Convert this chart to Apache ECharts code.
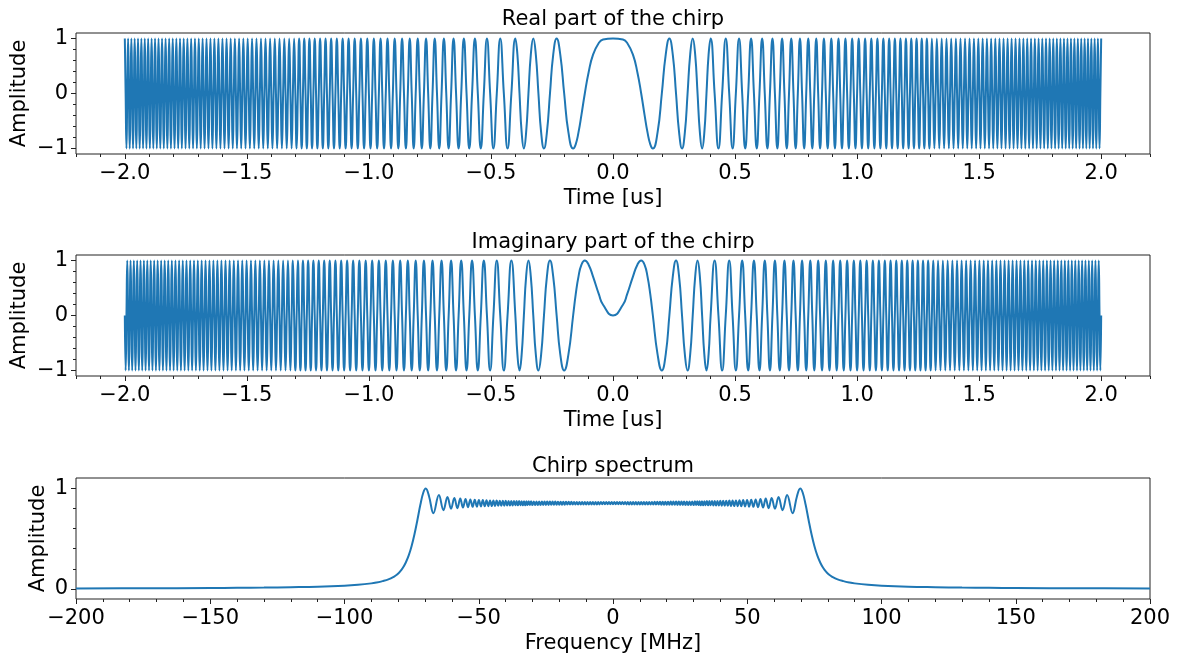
<!DOCTYPE html>
<html>
<head>
<meta charset="utf-8">
<script src="https://cdn.jsdelivr.net/npm/echarts@6/dist/echarts.min.js"></script>
<style>
html,body{margin:0;padding:0;background:#ffffff;}
#chart{width:1186px;height:658px;}
</style>
</head>
<body>
<div id="chart"></div>
<script>
// ---------------- DATA ----------------
// Chirp: sample times (us, t >= 0) at the turning points / zero crossings seen in the plot.
// The curves are symmetric in time, so the negative half is mirrored from these.
const chirpTimePos = [
0,0.0408,0.0577,0.0817,0.1000,0.1155,0.1291,0.1414,0.1528,0.1633,
0.1826,0.2000,0.2160,0.2309,0.2449,0.2582,0.2708,0.2828,0.2944,0.3055,
0.3162,0.3266,0.3367,0.3464,0.3559,0.3651,0.3742,0.3830,0.3916,0.4000,
0.4163,0.4320,0.4472,0.4619,0.4761,0.4899,0.5033,0.5164,0.5292,0.5416,
0.5538,0.5657,0.5774,0.5888,0.6000,0.6110,0.6218,0.6325,0.6429,0.6532,
0.6633,0.6733,0.6831,0.6928,0.7024,0.7118,0.7211,0.7303,0.7394,0.7483,
0.7572,0.7659,0.7746,0.7832,0.7916,0.8000,0.8083,0.8165,0.8246,0.8327,
0.8406,0.8485,0.8563,0.8641,0.8718,0.8794,0.8869,0.8944,0.9019,0.9092,
0.9165,0.9238,0.9309,0.9381,0.9452,0.9522,0.9592,0.9661,0.9730,0.9798,
0.9866,0.9933,1.0000,1.0066,1.0132,1.0198,1.0263,1.0328,1.0392,1.0456,
1.0520,1.0583,1.0646,1.0708,1.0770,1.0832,1.0893,1.0954,1.1015,1.1076,
1.1136,1.1195,1.1255,1.1314,1.1372,1.1431,1.1489,1.1547,1.1605,1.1662,
1.1719,1.1776,1.1832,1.1888,1.1944,1.2000,1.2055,1.2111,1.2166,1.2220,
1.2275,1.2329,1.2383,1.2437,1.2490,1.2543,1.2596,1.2649,1.2702,1.2754,
1.2806,1.2858,1.2910,1.2961,1.3013,1.3064,1.3115,1.3166,1.3216,1.3267,
1.3317,1.3367,1.3416,1.3466,1.3515,1.3565,1.3614,1.3663,1.3711,1.3760,
1.3808,1.3856,1.3904,1.3952,1.4000,1.4048,1.4095,1.4142,1.4189,1.4236,
1.4283,1.4329,1.4376,1.4422,1.4468,1.4514,1.4560,1.4606,1.4652,1.4697,
1.4742,1.4787,1.4832,1.4877,1.4922,1.4967,1.5011,1.5055,1.5100,1.5144,
1.5188,1.5232,1.5275,1.5319,1.5362,1.5406,1.5449,1.5492,1.5535,1.5578,
1.5621,1.5663,1.5706,1.5748,1.5790,1.5832,1.5875,1.5916,1.5958,1.6000,
1.6042,1.6083,1.6125,1.6166,1.6207,1.6248,1.6289,1.6330,1.6371,1.6411,
1.6452,1.6492,1.6533,1.6573,1.6613,1.6653,1.6693,1.6733,1.6773,1.6813,
1.6852,1.6892,1.6931,1.6971,1.7010,1.7049,1.7088,1.7127,1.7166,1.7205,
1.7243,1.7282,1.7321,1.7359,1.7397,1.7436,1.7474,1.7512,1.7550,1.7588,
1.7626,1.7664,1.7701,1.7739,1.7776,1.7814,1.7851,1.7889,1.7926,1.7963,
1.8000,1.8037,1.8074,1.8111,1.8148,1.8184,1.8221,1.8257,1.8294,1.8330,
1.8367,1.8403,1.8439,1.8475,1.8511,1.8547,1.8583,1.8619,1.8655,1.8690,
1.8726,1.8762,1.8797,1.8833,1.8868,1.8903,1.8939,1.8974,1.9009,1.9044,
1.9079,1.9114,1.9149,1.9183,1.9218,1.9253,1.9287,1.9322,1.9356,1.9391,
1.9425,1.9459,1.9494,1.9528,1.9562,1.9596,1.9630,1.9664,1.9698,1.9732,
1.9765,1.9799,1.9833,1.9866,1.9900,1.9933,1.9967,2.0000
];
// Real part amplitude at each of those times
const chirpRealPos = [
1,0.981,0.924,0.707,0.383,0,-0.383,-0.707,-0.924,-1,
-0.707,0,0.707,1,0.707,0,-0.707,-1,-0.707,0,
0.707,1,0.707,0,-0.707,-1,-0.707,0,0.707,1,
0,-1,0,1,0,-1,0,1,0,-1,0,1,0,-1,0,1,0,-1,0,1,0,-1,0,1,0,-1,0,1,0,-1,0,1,
0,-1,0,1,0,-1,0,1,0,-1,0,1,0,-1,0,1,0,-1,0,1,0,-1,0,1,0,-1,0,1,0,-1,0,1,
0,-1,0,1,0,-1,0,1,0,-1,0,1,0,-1,0,1,0,-1,0,1,0,-1,0,1,0,-1,0,1,0,-1,0,1,
0,-1,0,1,0,-1,0,1,0,-1,0,1,0,-1,0,1,0,-1,0,1,0,-1,0,1,0,-1,0,1,0,-1,0,1,
0,-1,0,1,0,-1,0,1,0,-1,0,1,0,-1,0,1,0,-1,0,1,0,-1,0,1,0,-1,0,1,0,-1,0,1,
0,-1,0,1,0,-1,0,1,0,-1,0,1,0,-1,0,1,0,-1,0,1,0,-1,0,1,0,-1,0,1,0,-1,0,1,
0,-1,0,1,0,-1,0,1,0,-1,0,1,0,-1,0,1,0,-1,0,1,0,-1,0,1,0,-1,0,1,0,-1,0,1,
0,-1,0,1,0,-1,0,1,0,-1,0,1,0,-1,0,1,0,-1,0,1,0,-1,0,1,0,-1,0,1,0,-1,0,1,
0,-1,0,1,0,-1,0,1,0,-1,0,1,0,-1,0,1,0,-1,0,1,0,-1,0,1,0,-1,0,1,0,-1,0,1
];
// Imaginary part amplitude at each of those times
const chirpImagPos = [
0,0.195,0.383,0.707,0.924,1,0.924,0.707,0.383,0,
-0.707,-1,-0.707,0,0.707,1,0.707,0,-0.707,-1,
-0.707,0,0.707,1,0.707,0,-0.707,-1,-0.707,0,
1,0,-1,0,1,0,-1,0,1,0,-1,0,1,0,-1,0,1,0,-1,0,1,0,-1,0,1,0,-1,0,1,0,-1,0,
1,0,-1,0,1,0,-1,0,1,0,-1,0,1,0,-1,0,1,0,-1,0,1,0,-1,0,1,0,-1,0,1,0,-1,0,
1,0,-1,0,1,0,-1,0,1,0,-1,0,1,0,-1,0,1,0,-1,0,1,0,-1,0,1,0,-1,0,1,0,-1,0,
1,0,-1,0,1,0,-1,0,1,0,-1,0,1,0,-1,0,1,0,-1,0,1,0,-1,0,1,0,-1,0,1,0,-1,0,
1,0,-1,0,1,0,-1,0,1,0,-1,0,1,0,-1,0,1,0,-1,0,1,0,-1,0,1,0,-1,0,1,0,-1,0,
1,0,-1,0,1,0,-1,0,1,0,-1,0,1,0,-1,0,1,0,-1,0,1,0,-1,0,1,0,-1,0,1,0,-1,0,
1,0,-1,0,1,0,-1,0,1,0,-1,0,1,0,-1,0,1,0,-1,0,1,0,-1,0,1,0,-1,0,1,0,-1,0,
1,0,-1,0,1,0,-1,0,1,0,-1,0,1,0,-1,0,1,0,-1,0,1,0,-1,0,1,0,-1,0,1,0,-1,0,
1,0,-1,0,1,0,-1,0,1,0,-1,0,1,0,-1,0,1,0,-1,0,1,0,-1,0,1,0,-1,0,1,0,-1,0
];

// Spectrum (MHz >= 0, symmetric): ripple peaks / dips, band edge and tail
const specFreqPos = [
0,0.5,1,1.5,2,2.5,3,3.5,4,4.5,5,5.5,6,6.5,7,7.5,8,8.5,9,9.5,
10,10.5,11,11.5,12,12.5,13,13.5,14,14.5,15,15.5,16,16.5,17,17.5,18,18.5,19,19.5,
20,20.5,21,21.5,22,22.5,23,23.5,24,24.5,25,25.5,26,26.5,27,27.5,28,28.5,29,29.5,
30,30.5,31,
31.38,31.81,32.24,32.68,33.13,33.58,34.04,34.50,34.96,35.43,
35.91,36.39,36.88,37.38,37.88,38.39,38.90,39.42,39.96,40.49,
41.04,41.60,42.17,42.74,43.33,43.93,44.54,45.16,45.79,46.44,
47.11,47.79,48.48,49.20,49.94,50.70,51.48,52.29,53.13,54.01,
54.92,55.88,56.89,57.95,59.09,60.32,61.65,63.14,64.85,66.89,
68.5,69.73,70.67,71.75,72.83,73.92,75,76.08,77.17,78.25,
79.33,80.41,81.5,83.66,85.8,88,90,95,100,110,
120,130,140,150,175,200
];
const specAmpPos = [
0.839,0.861,0.839,0.861,0.839,0.861,0.839,0.861,0.839,0.861,0.838,0.862,0.838,0.862,0.838,0.862,0.838,0.862,0.838,0.862,
0.837,0.863,0.837,0.863,0.837,0.863,0.837,0.863,0.837,0.863,0.836,0.864,0.836,0.864,0.836,0.864,0.835,0.865,0.835,0.865,
0.835,0.865,0.834,0.866,0.834,0.866,0.834,0.866,0.833,0.867,0.833,0.867,0.833,0.867,0.832,0.868,0.832,0.868,0.832,0.868,
0.831,0.869,0.831,
0.869,0.831,0.869,0.830,0.870,0.830,0.870,0.830,0.871,0.829,
0.871,0.829,0.872,0.828,0.872,0.827,0.873,0.827,0.874,0.826,
0.874,0.825,0.875,0.824,0.876,0.823,0.877,0.822,0.878,0.821,
0.880,0.820,0.881,0.818,0.883,0.816,0.885,0.814,0.888,0.811,
0.891,0.807,0.896,0.801,0.902,0.794,0.912,0.781,0.931,0.750,
0.917,0.995,0.954,0.834,0.686,0.544,0.425,0.332,0.262,0.210,
0.172,0.143,0.123,0.094,0.077,0.064,0.055,0.041,0.032,0.022,
0.017,0.013,0.011,0.009,0.0065,0.005
];

// Tick values and labels
const timeTicks = [-2, -1.5, -1, -0.5, 0, 0.5, 1, 1.5, 2];
const timeTickLabels = ['\u22122.0','\u22121.5','\u22121.0','\u22120.5','0.0','0.5','1.0','1.5','2.0'];
const timeMinorTicks = [-2.2,-2.1,-1.9,-1.8,-1.7,-1.6,-1.4,-1.3,-1.2,-1.1,-0.9,-0.8,-0.7,-0.6,-0.4,-0.3,-0.2,-0.1,
  0.1,0.2,0.3,0.4,0.6,0.7,0.8,0.9,1.1,1.2,1.3,1.4,1.6,1.7,1.8,1.9,2.1,2.2];
const ampTicks = [-1, 0, 1];
const ampTickLabels = ['\u22121','0','1'];
const ampMinorTicks = [-0.8,-0.6,-0.4,-0.2,0.2,0.4,0.6,0.8];
const freqTicks = [-200,-150,-100,-50,0,50,100,150,200];
const freqTickLabels = ['\u2212200','\u2212150','\u2212100','\u221250','0','50','100','150','200'];
const freqMinorTicks = [-190,-180,-170,-160,-140,-130,-120,-110,-90,-80,-70,-60,-40,-30,-20,-10,
  10,20,30,40,60,70,80,90,110,120,130,140,160,170,180,190];
const specTicks = [0, 1];
const specTickLabels = ['0','1'];
const specMinorTicks = [0.2,0.4,0.6,0.8];

const titles = ['Real part of the chirp', 'Imaginary part of the chirp', 'Chirp spectrum'];

// ---------------- BUILD ----------------
function mirror(xs, ys) {
  const out = [];
  for (let i = xs.length - 1; i >= 1; i--) out.push([-xs[i], ys[i]]);
  for (let i = 0; i < xs.length; i++) out.push([xs[i], ys[i]]);
  return out;
}
function labelFor(ticks, labels) {
  return function (v) {
    for (let i = 0; i < ticks.length; i++) if (Math.abs(ticks[i] - v) < 1e-9) return labels[i];
    return '';
  };
}

const FONT = 'DejaVu Sans';
const FS = 21;
const INK = '#000000';
const SPINE = '#222222';
const BLUE = '#1f77b4';

const gridBoxes = [
  {left: 76, top: 33, width: 1074, height: 121},
  {left: 76, top: 255, width: 1074, height: 121},
  {left: 76, top: 478, width: 1074, height: 121}
];
const titleY = [20, 243, 467];

const xDefs = [
  {min: -2.2, max: 2.2, ticks: timeTicks, labels: timeTickLabels, minor: timeMinorTicks, name: 'Time [us]'},
  {min: -2.2, max: 2.2, ticks: timeTicks, labels: timeTickLabels, minor: timeMinorTicks, name: 'Time [us]'},
  {min: -200, max: 200, ticks: freqTicks, labels: freqTickLabels, minor: freqMinorTicks, name: 'Frequency [MHz]'}
];
const yDefs = [
  {min: -1.1, max: 1.1, ticks: ampTicks, labels: ampTickLabels, minor: ampMinorTicks, gap: 46},
  {min: -1.1, max: 1.1, ticks: ampTicks, labels: ampTickLabels, minor: ampMinorTicks, gap: 46},
  {min: -0.1, max: 1.1, ticks: specTicks, labels: specTickLabels, minor: specMinorTicks, gap: 27}
];

const grid = [], xAxis = [], yAxis = [], title = [];
gridBoxes.forEach(function (b, i) {
  grid.push(Object.assign({show: true, borderColor: SPINE, borderWidth: 1, backgroundColor: 'transparent',
    containLabel: false, outerBoundsMode: 'none'}, b));
  title.push({text: titles[i], left: 613, top: titleY[i], textAlign: 'center', textVerticalAlign: 'middle', padding: 0,
    textStyle: {fontFamily: FONT, fontSize: FS, fontWeight: 'normal', color: INK}});
  const xd = xDefs[i], yd = yDefs[i];
  xAxis.push({
    type: 'value', gridIndex: i, position: 'bottom', min: xd.min, max: xd.max,
    axisLine: {show: false, onZero: false}, splitLine: {show: false},
    axisTick: {show: true, length: 5, customValues: xd.ticks, lineStyle: {color: SPINE, width: 1}},
    axisLabel: {show: true, customValues: xd.ticks, formatter: labelFor(xd.ticks, xd.labels),
      color: INK, fontFamily: FONT, fontSize: FS, margin: 9},
    name: xd.name, nameLocation: 'middle', nameGap: 34, nameMoveOverlap: false,
    nameTextStyle: {fontFamily: FONT, fontSize: FS, color: INK}
  });
  xAxis.push({
    type: 'value', gridIndex: i, position: 'bottom', min: xd.min, max: xd.max,
    axisLine: {show: false, onZero: false}, splitLine: {show: false}, axisLabel: {show: false},
    axisTick: {show: true, length: 3, customValues: xd.minor, lineStyle: {color: SPINE, width: 1}}
  });
  yAxis.push({
    type: 'value', gridIndex: i, position: 'left', min: yd.min, max: yd.max,
    axisLine: {show: false, onZero: false}, splitLine: {show: false},
    axisTick: {show: true, length: 5, customValues: yd.ticks, lineStyle: {color: SPINE, width: 1}},
    axisLabel: {show: true, customValues: yd.ticks, formatter: labelFor(yd.ticks, yd.labels),
      color: INK, fontFamily: FONT, fontSize: FS, margin: 8, padding: [5, 0, 0, 0]},
    name: 'Amplitude', nameLocation: 'middle', nameGap: yd.gap, nameMoveOverlap: false,
    nameTextStyle: {fontFamily: FONT, fontSize: FS, color: INK}
  });
  yAxis.push({
    type: 'value', gridIndex: i, position: 'left', min: yd.min, max: yd.max,
    axisLine: {show: false, onZero: false}, splitLine: {show: false}, axisLabel: {show: false},
    axisTick: {show: true, length: 3, customValues: yd.minor, lineStyle: {color: SPINE, width: 1}}
  });
});

function lineSeries(idx, data, smooth) {
  return {
    type: 'line', xAxisIndex: idx * 2, yAxisIndex: idx * 2, data: data,
    showSymbol: false, symbol: 'none', smooth: smooth, clip: true, silent: true,
    lineStyle: {color: BLUE, width: 2}, itemStyle: {color: BLUE}
  };
}

const chart = echarts.init(document.getElementById('chart'), null, {renderer: 'canvas'});
chart.setOption({
  animation: false,
  backgroundColor: '#ffffff',
  textStyle: {fontFamily: FONT},
  title: title,
  grid: grid,
  xAxis: xAxis,
  yAxis: yAxis,
  series: [
    lineSeries(0, mirror(chirpTimePos, chirpRealPos), 0.5),
    lineSeries(1, mirror(chirpTimePos, chirpImagPos), 0.5),
    lineSeries(2, mirror(specFreqPos, specAmpPos), 0.4)
  ]
});
</script>
</body>
</html>
